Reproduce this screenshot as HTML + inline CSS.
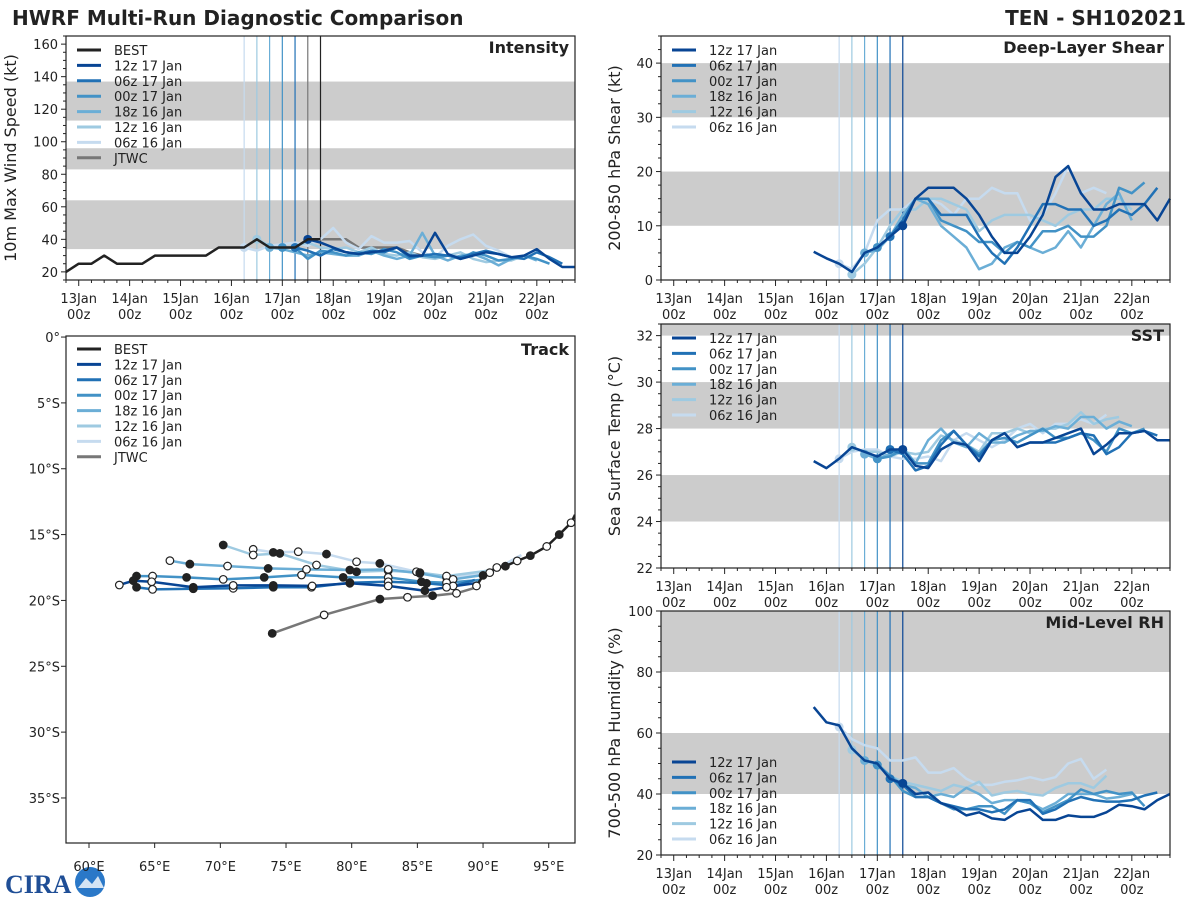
<!DOCTYPE html>
<html><head><meta charset="utf-8"><style>
html,body{margin:0;padding:0;background:#fff;}
svg{display:block;font-family:"DejaVu Sans","Liberation Sans",sans-serif;}
</style></head><body>
<svg id="fig" width="1200" height="900" viewBox="0 0 1200 900">
<text x="12" y="25" font-size="20" font-weight="bold" fill="#222">HWRF Multi-Run Diagnostic Comparison</text>
<text x="1186" y="25" font-size="20" font-weight="bold" fill="#222" text-anchor="end">TEN - SH102021</text>
<g>
<text x="5" y="893" font-size="26" font-weight="bold" fill="#1f4e96" font-family="Liberation Serif,serif">CIRA</text>
<circle cx="90" cy="882" r="15" fill="#2a78c8"/>
<path d="M78 888 L86 878 L92 884 L98 876 L104 888 Z" fill="#fff" opacity="0.8"/>
</g>
</svg>
<script>
// ---------- data ----------
const runNames = ["12z 17 Jan","06z 17 Jan","00z 17 Jan","18z 16 Jan","12z 16 Jan","06z 16 Jan"];
const runStarts = [4.5,4.25,4.0,3.75,3.5,3.25];
const runInitLines = [4.5,4.25,4.0,3.75,3.5,3.25];
const dayLabels = ["13Jan","14Jan","15Jan","16Jan","17Jan","18Jan","19Jan","20Jan","21Jan","22Jan"];
// Intensity (kt)
const bestStart = -0.25;
const bestIntensity = [20,25,25,30,25,25,25,30,30,30,30,30,35,35,35,40,35,35,35,40,40];
const jtwcStart = 4.5;
const jtwcIntensity = [40,40,40,40,35,35,35,35,32,30];
const int12z17 = [40,38,35,32,31,32,33,35,30,30,44,31,28,30,32,31,29,30,34,28,23,23];
const int06z17 = [35,33,30,34,32,31,33,32,35,29,30,31,30,29,31,33,31,29,28,32,29,25];
const int00z17 = [35,35,28,33,32,30,32,31,34,32,28,30,29,30,28,32,30,27,28,30,28,25];
const int18z16 = [35,34,32,30,32,31,30,30,33,30,28,30,44,30,27,30,31,28,24,28,30,27];
const int12z16 = [40,36,34,36,38,35,34,35,32,35,31,30,32,29,28,30,32,28,26,27,27,30];
const int06z16 = [35,33,36,37,38,36,40,47,38,34,42,38,38,39,32,29,36,40,43,36,33,29];
const intInitLines = [3.25,3.5,3.75,4.0,4.25];
// Shear (kt)
const shearStart12z17 = 2.75;
const shr12z17 = [5.2,4,3,1.5,5,6,8,10,15,17,17,17,15,12,8,5,5,8,12,19,21,16,13,13,14,14,14,11,15];
const shr06z17 = [8,11,15,15,12,12,12,8,5,3,6,10,14,14,13,13,10,11,13,12,14,17];
const shr00z17 = [6,8,11,15,15,11,10,9,7,7,5,7,6,9,9,10,8,8,10,17,16,18];
const shr18z16 = [5,5.5,8,12,15,14,10,8,6,2,3,6,7,6,5,6,9,6,10,14,16,11];
const shr12z16 = [1,3,6,10,13,13,15,15,14,13,9,11,12,12,12,11,10,12,13,13,15,15,13];
const shr06z16 = [3,2,5,11,13,13,15,15,14,12,15,15,17,16,16,11,12,16,21,16,17,16];
// SST (C)
const sst12z17 = [26.6,26.3,26.7,27.2,27.0,26.8,27.1,27.1,26.4,26.3,27.1,27.4,27.3,26.6,27.5,27.8,27.2,27.4,27.4,27.6,27.8,28.0,26.9,27.3,27.8,27.8,27.9,27.5,27.5];
const sst06z17 = [27.1,26.9,26.2,26.4,27.3,27.9,27.3,26.8,27.5,27.8,27.2,27.4,27.4,27.4,27.6,27.8,27.7,26.9,27.2,27.8,27.9,27.7];
const sst00z17 = [26.7,26.8,27.1,26.5,26.5,27.5,27.9,27.3,26.9,27.5,27.6,27.4,27.7,28.0,27.6,27.6,27.8,27.5,27.0,28.0,27.8,28.0];
const sst18z16 = [26.9,26.7,26.9,27.2,26.5,27.5,28.0,27.4,27.2,27.8,27.4,27.4,27.7,27.9,27.9,28.1,28.0,28.5,28.5,28.0,28.3,28.1];
const sst12z16 = [27.2,27.0,27.0,26.8,27.0,26.9,27.0,27.7,27.5,27.3,27.0,27.8,27.8,28.0,27.8,28.0,28.0,28.2,28.7,28.2,28.4,28.5];
const sst06z16 = [26.7,27.0,27.1,27.1,26.8,26.7,26.7,26.8,26.6,27.5,27.8,27.5,27.2,27.5,28.0,28.2,27.8,28.2,28.2,28.4,28.2,28.6];
// RH (%)
const rh12z17 = [68.5,63.5,62.5,55,51,50,45,43.5,40,40.5,37,35.5,33,34,32,31.5,34,35,31.5,31.5,33,32.5,32.5,34,36.5,36,35,38,40];
const rh06z17 = [45,43,39,39,37,36,35,35,34,35,38,38,33.5,35,37.5,39,38,37.5,37.5,38,39.5,40.5];
const rh00z17 = [49.5,46,41,39,39,37,35,35,36,36,33.5,38,37,34,36,38,41.5,40,41,40,40.5,36];
const rh18z16 = [51,50,46,43,42,39,40,39,42,40,37,38,38,37,35,37,40,40,40,38.5,39,40];
const rh12z16 = [54.5,51,49,46,44,43,42,41,43,42,44,39.5,40.5,41,40,39.5,42,43.5,43.5,42,46];
const rh06z16 = [62,58,56,55,51,51,52,47,47,48.5,45,43,43,44,44.5,45.5,44.5,45.5,50,51.5,45,48];
// Track (lon E, lat S)
const bestLon = [97.0,96.7,95.8,94.85,93.6,92.6,91.7,91.05,90.0,89.5];
const bestLat = [13.5,14.1,15.0,15.9,16.6,17.0,17.4,17.5,18.1,18.9];
const jtwcLon = [89.51,87.98,86.16,84.25,82.15,77.9,73.95];
const jtwcLat = [19.0,19.46,19.64,19.76,19.9,21.1,22.5];
const trk12z17Lon = [89.37,87.22,85.57,82.78,79.86,76.99,74.03,70.98,67.94,64.77,63.37,62.31];
const trk12z17Lat = [18.7,19.0,19.26,18.9,18.7,18.9,18.86,18.86,19.0,18.58,18.5,18.83];
const trk06z17Lon = [89.37,87.72,85.7,82.78,79.86,76.94,74.03,70.98,67.94,64.84,63.62];
const trk06z17Lat = [18.45,18.9,18.7,18.58,18.65,19.0,19.0,19.08,19.11,19.16,19.0];
const trk00z17Lon = [89.75,87.22,85.31,82.78,79.35,76.18,73.34,70.22,67.43,64.84,63.62];
const trk00z17Lat = [18.45,18.65,18.58,18.25,18.25,18.07,18.25,18.4,18.25,18.15,18.15];
const trk18z16Lon = [90.01,87.72,85.19,82.78,79.86,76.56,73.64,70.55,67.68,66.16];
const trk18z16Lat = [18.07,18.4,17.95,17.64,17.69,17.64,17.57,17.39,17.24,16.98];
const trk12z16Lon = [90.77,87.22,85.19,82.78,80.37,77.32,74.53,72.5,70.22];
const trk12z16Lat = [17.69,18.15,17.89,17.74,17.82,17.31,16.43,16.55,15.79];
const trk06z16Lon = [92.92,90.51,87.22,84.93,82.14,80.37,78.08,75.93,74.03,72.5];
const trk06z16Lat = [16.55,17.89,18.25,17.82,17.19,17.06,16.48,16.3,16.35,16.12];

const colors = ["#084594","#2171b5","#4292c6","#6baed6","#9ecae1","#c6dbef"];
const NS = "http://www.w3.org/2000/svg";
const svg = document.getElementById("fig");
function mk(tag, attrs, parent){const e=document.createElementNS(NS,tag);for(const k in attrs)e.setAttribute(k,attrs[k]);(parent||svg).appendChild(e);return e;}

function timePanel(p){
  const g = mk('g',{});
  
  
  const X0=-0.25,X1=9.75;
  const sx = d => p.L + (d-X0)/(X1-X0)*p.W;
  const sy = v => p.T + p.H - (v-p.ymin)/(p.ymax-p.ymin)*p.H;
  p.bands.forEach(b=>{
    const r = mk('rect',{x:p.L,y:sy(Math.min(b[1],p.ymax)),width:p.W,height:sy(b[0])-sy(Math.min(b[1],p.ymax)),fill:'#cccccc'},g);
    
    
  });
  for(let v=p.ymin; v<=p.ymax+1e-6; v+=p.minor){
    const y=sy(v);
    const major = Math.abs(((v-p.ymajor0)/p.major)-Math.round((v-p.ymajor0)/p.major))<1e-6;
    mk('line',{x1:p.L-(major?5:3),x2:p.L,y1:y,y2:y,stroke:'#222','stroke-width':1},g);
    if(major && v>=p.ymajor0){
      const t = mk('text',{x:p.L-8,y:y+5,'font-size':13,'text-anchor':'end',fill:'#222'},g);
      t.textContent = String(Math.round(v));
      
      
    }
  }
  for(let d=-0.25; d<=9.75+1e-6; d+=0.25){
    const x=sx(d); const major=Math.abs(d-Math.round(d))<1e-6;
    mk('line',{x1:x,x2:x,y1:p.T+p.H,y2:p.T+p.H+(major?6:3),stroke:'#222','stroke-width':1},g);
  }
  dayLabels.forEach((lab,i)=>{
    const t=mk('text',{x:sx(i),y:p.T+p.H+23,'font-size':13,'text-anchor':'middle',fill:'#222'},g);
    t.textContent=lab;
    
    
    const t2=mk('text',{x:sx(i),y:p.T+p.H+39,'font-size':13,'text-anchor':'middle',fill:'#222'},g);
    t2.textContent='00z';
    
    
  });
  p.initLines.forEach((d,i)=>{
    const l=mk('line',{x1:sx(d),x2:sx(d),y1:p.T,y2:p.T+p.H,stroke:p.initColors[i],'stroke-width':1.2},g);
    
    
  });
  for(let i=p.series.length-1;i>=0;i--){
    const s=p.series[i];
    const pts=s.values.map((v,k)=>sx(s.start+k*0.25).toFixed(1)+','+sy(v).toFixed(1)).join(' ');
    const pl=mk('polyline',{points:pts,fill:'none',stroke:s.color,'stroke-width':2.5,'stroke-linejoin':'round'},g);
    
    
    if(s.dot!==undefined){
      const k=Math.round((s.dot-s.start)/0.25);
      if(k>=0&&k<s.values.length){
        const c=mk('circle',{cx:sx(s.dot),cy:sy(s.values[k]),r:4.5,fill:s.color},g);
        
        
      }
    }
  }
  const fr=mk('rect',{x:p.L,y:p.T,width:p.W,height:p.H,fill:'none',stroke:'#222','stroke-width':1.2},g);
  
  
  const title=mk('text',{x:p.L+p.W-6,y:p.T+17,'font-size':16,'font-weight':'bold','text-anchor':'end',fill:'#222'},g);
  title.textContent=p.title;
  
  
  const yt=mk('text',{x:0,y:0,'font-size':16,'text-anchor':'middle',fill:'#222',transform:`translate(${p.ytx},${p.T+p.H/2}) rotate(-90)`},g);
  yt.textContent=p.ylabel;
  
  
  legend(g,p.name,p.legend,p.legY);
}
function legend(g,name,items,y0){
  items.forEach((it,i)=>{
    const y=y0+i*15.4;
    const left=(name==='intensity'||name==='track');
    const l=mk('line',{x1:left?77:672,x2:left?101:696,y1:y,y2:y,stroke:it.color,'stroke-width':3},g);
    
    
    const t=mk('text',{x:left?114:709,y:y+5,'font-size':13,fill:'#222'},g);
    t.textContent=it.label;
    
    
  });
}
const runLegend = runNames.map((n,i)=>({label:n,color:colors[i]}));
const fullLegend = [{label:'BEST',color:'#222'}].concat(runLegend,[{label:'JTWC',color:'#777'}]);
function runs(arrs,firstStart){
  return arrs.map((a,i)=>({key:runNames[i].replace(/ /g,'-').toLowerCase(),values:a,start:(i===0&&firstStart!==undefined)?firstStart:runStarts[i],color:colors[i],dot:runStarts[i]}));
}
const rightInitColors=[colors[0],colors[1],colors[2],colors[3],colors[4],colors[5]];

timePanel({name:'intensity',title:'Intensity',ylabel:'10m Max Wind Speed (kt)',ytx:16,L:66,T:36,W:509,H:244,ymin:15,ymax:165,minor:5,major:20,ymajor0:20,
  bands:[[34,64],[83,96],[113,137]],
  initLines:intInitLines.concat([4.5,4.75]),initColors:[colors[5],colors[4],colors[3],colors[2],colors[1],'#777','#222'],
  series:[{key:'best',values:bestIntensity,start:bestStart,color:'#222'}].concat(
    runs([int12z17,int06z17,int00z17,int18z16,int12z16,int06z16]),
    [{key:'jtwc',values:jtwcIntensity,start:jtwcStart,color:'#777'}]),
  legend:fullLegend,legY:50});
timePanel({name:'shear',title:'Deep-Layer Shear',ylabel:'200-850 hPa Shear (kt)',ytx:620,L:661,T:36,W:509,H:244,ymin:0,ymax:45,minor:2.5,major:10,ymajor0:0,
  bands:[[10,20],[30,40]],initLines:runInitLines,initColors:rightInitColors,
  series:runs([shr12z17,shr06z17,shr00z17,shr18z16,shr12z16,shr06z16],shearStart12z17),legend:runLegend,legY:50});
timePanel({name:'sst',title:'SST',ylabel:'Sea Surface Temp (°C)',ytx:620,L:661,T:324,W:509,H:244,ymin:22,ymax:32.5,minor:0.5,major:2,ymajor0:22,
  bands:[[24,26],[28,30],[32,32.5]],initLines:runInitLines,initColors:rightInitColors,
  series:runs([sst12z17,sst06z17,sst00z17,sst18z16,sst12z16,sst06z16],shearStart12z17),legend:runLegend,legY:338});
timePanel({name:'rh',title:'Mid-Level RH',ylabel:'700-500 hPa Humidity (%)',ytx:620,L:661,T:611,W:509,H:244,ymin:20,ymax:100,minor:5,major:20,ymajor0:20,
  bands:[[40,60],[80,100]],initLines:runInitLines,initColors:rightInitColors,
  series:runs([rh12z17,rh06z17,rh00z17,rh18z16,rh12z16,rh06z16],shearStart12z17),legend:runLegend,legY:762});

(function(){
  const L=66,T=336,W=509,H=507,lon0=58.25,lon1=97,lat0=-0.08,lat1=38.42;
  const g=mk('g',{});
  
  
  const sx=lo=>L+(lo-lon0)/(lon1-lon0)*W, sy=la=>T+(la-lat0)/(lat1-lat0)*H;
  const clip=mk('clipPath',{id:'tclip'},g);
  mk('rect',{x:L,y:T,width:W,height:H},clip);
  const inner=mk('g',{'clip-path':'url(#tclip)'},g);
  const tracks=[
    {key:'06z-16-jan',lon:trk06z16Lon,lat:trk06z16Lat,color:colors[5]},
    {key:'12z-16-jan',lon:trk12z16Lon,lat:trk12z16Lat,color:colors[4]},
    {key:'18z-16-jan',lon:trk18z16Lon,lat:trk18z16Lat,color:colors[3]},
    {key:'00z-17-jan',lon:trk00z17Lon,lat:trk00z17Lat,color:colors[2]},
    {key:'06z-17-jan',lon:trk06z17Lon,lat:trk06z17Lat,color:colors[1]},
    {key:'12z-17-jan',lon:trk12z17Lon,lat:trk12z17Lat,color:colors[0]},
    {key:'jtwc',lon:jtwcLon,lat:jtwcLat,color:'#777'},
    {key:'best',lon:bestLon,lat:bestLat,color:'#222'}];
  tracks.forEach(t=>{
    const pts=t.lon.map((lo,k)=>sx(lo).toFixed(1)+','+sy(t.lat[k]).toFixed(1)).join(' ');
    const pl=mk('polyline',{points:pts,fill:'none',stroke:t.color,'stroke-width':2.5,'stroke-linejoin':'round'},inner);
    
    
  });
  tracks.forEach(t=>{
    t.lon.forEach((lo,k)=>{
      if(k===0) return;
      const filled=(k%2===0);
      const c=mk('circle',{cx:sx(lo),cy:sy(t.lat[k]),r:3.8,fill:filled?'#222':'#fff',stroke:'#222','stroke-width':1.2},inner);
      
      
    });
  });
  for(let la=0;la<=35;la+=5){
    mk('line',{x1:L-5,x2:L,y1:sy(la),y2:sy(la),stroke:'#222'},g);
    const t=mk('text',{x:L-6,y:sy(la)+5,'font-size':13,'text-anchor':'end',fill:'#222'},g);
    t.textContent=la===0?'0°':la+'°S';
    
    
  }
  for(let lo=60;lo<=95;lo+=5){
    mk('line',{x1:sx(lo),x2:sx(lo),y1:T+H,y2:T+H+5,stroke:'#222'},g);
    const t=mk('text',{x:sx(lo),y:T+H+28,'font-size':13,'text-anchor':'middle',fill:'#222'},g);
    t.textContent=lo+'°E';
    
    
  }
  const fr=mk('rect',{x:L,y:T,width:W,height:H,fill:'none',stroke:'#222','stroke-width':1.2},g);
  
  
  const title=mk('text',{x:L+W-6,y:T+19,'font-size':16,'font-weight':'bold','text-anchor':'end',fill:'#222'},g);
  title.textContent='Track';
  
  
  legend(g,'track',fullLegend,349);
})();
</script>
</body></html>
